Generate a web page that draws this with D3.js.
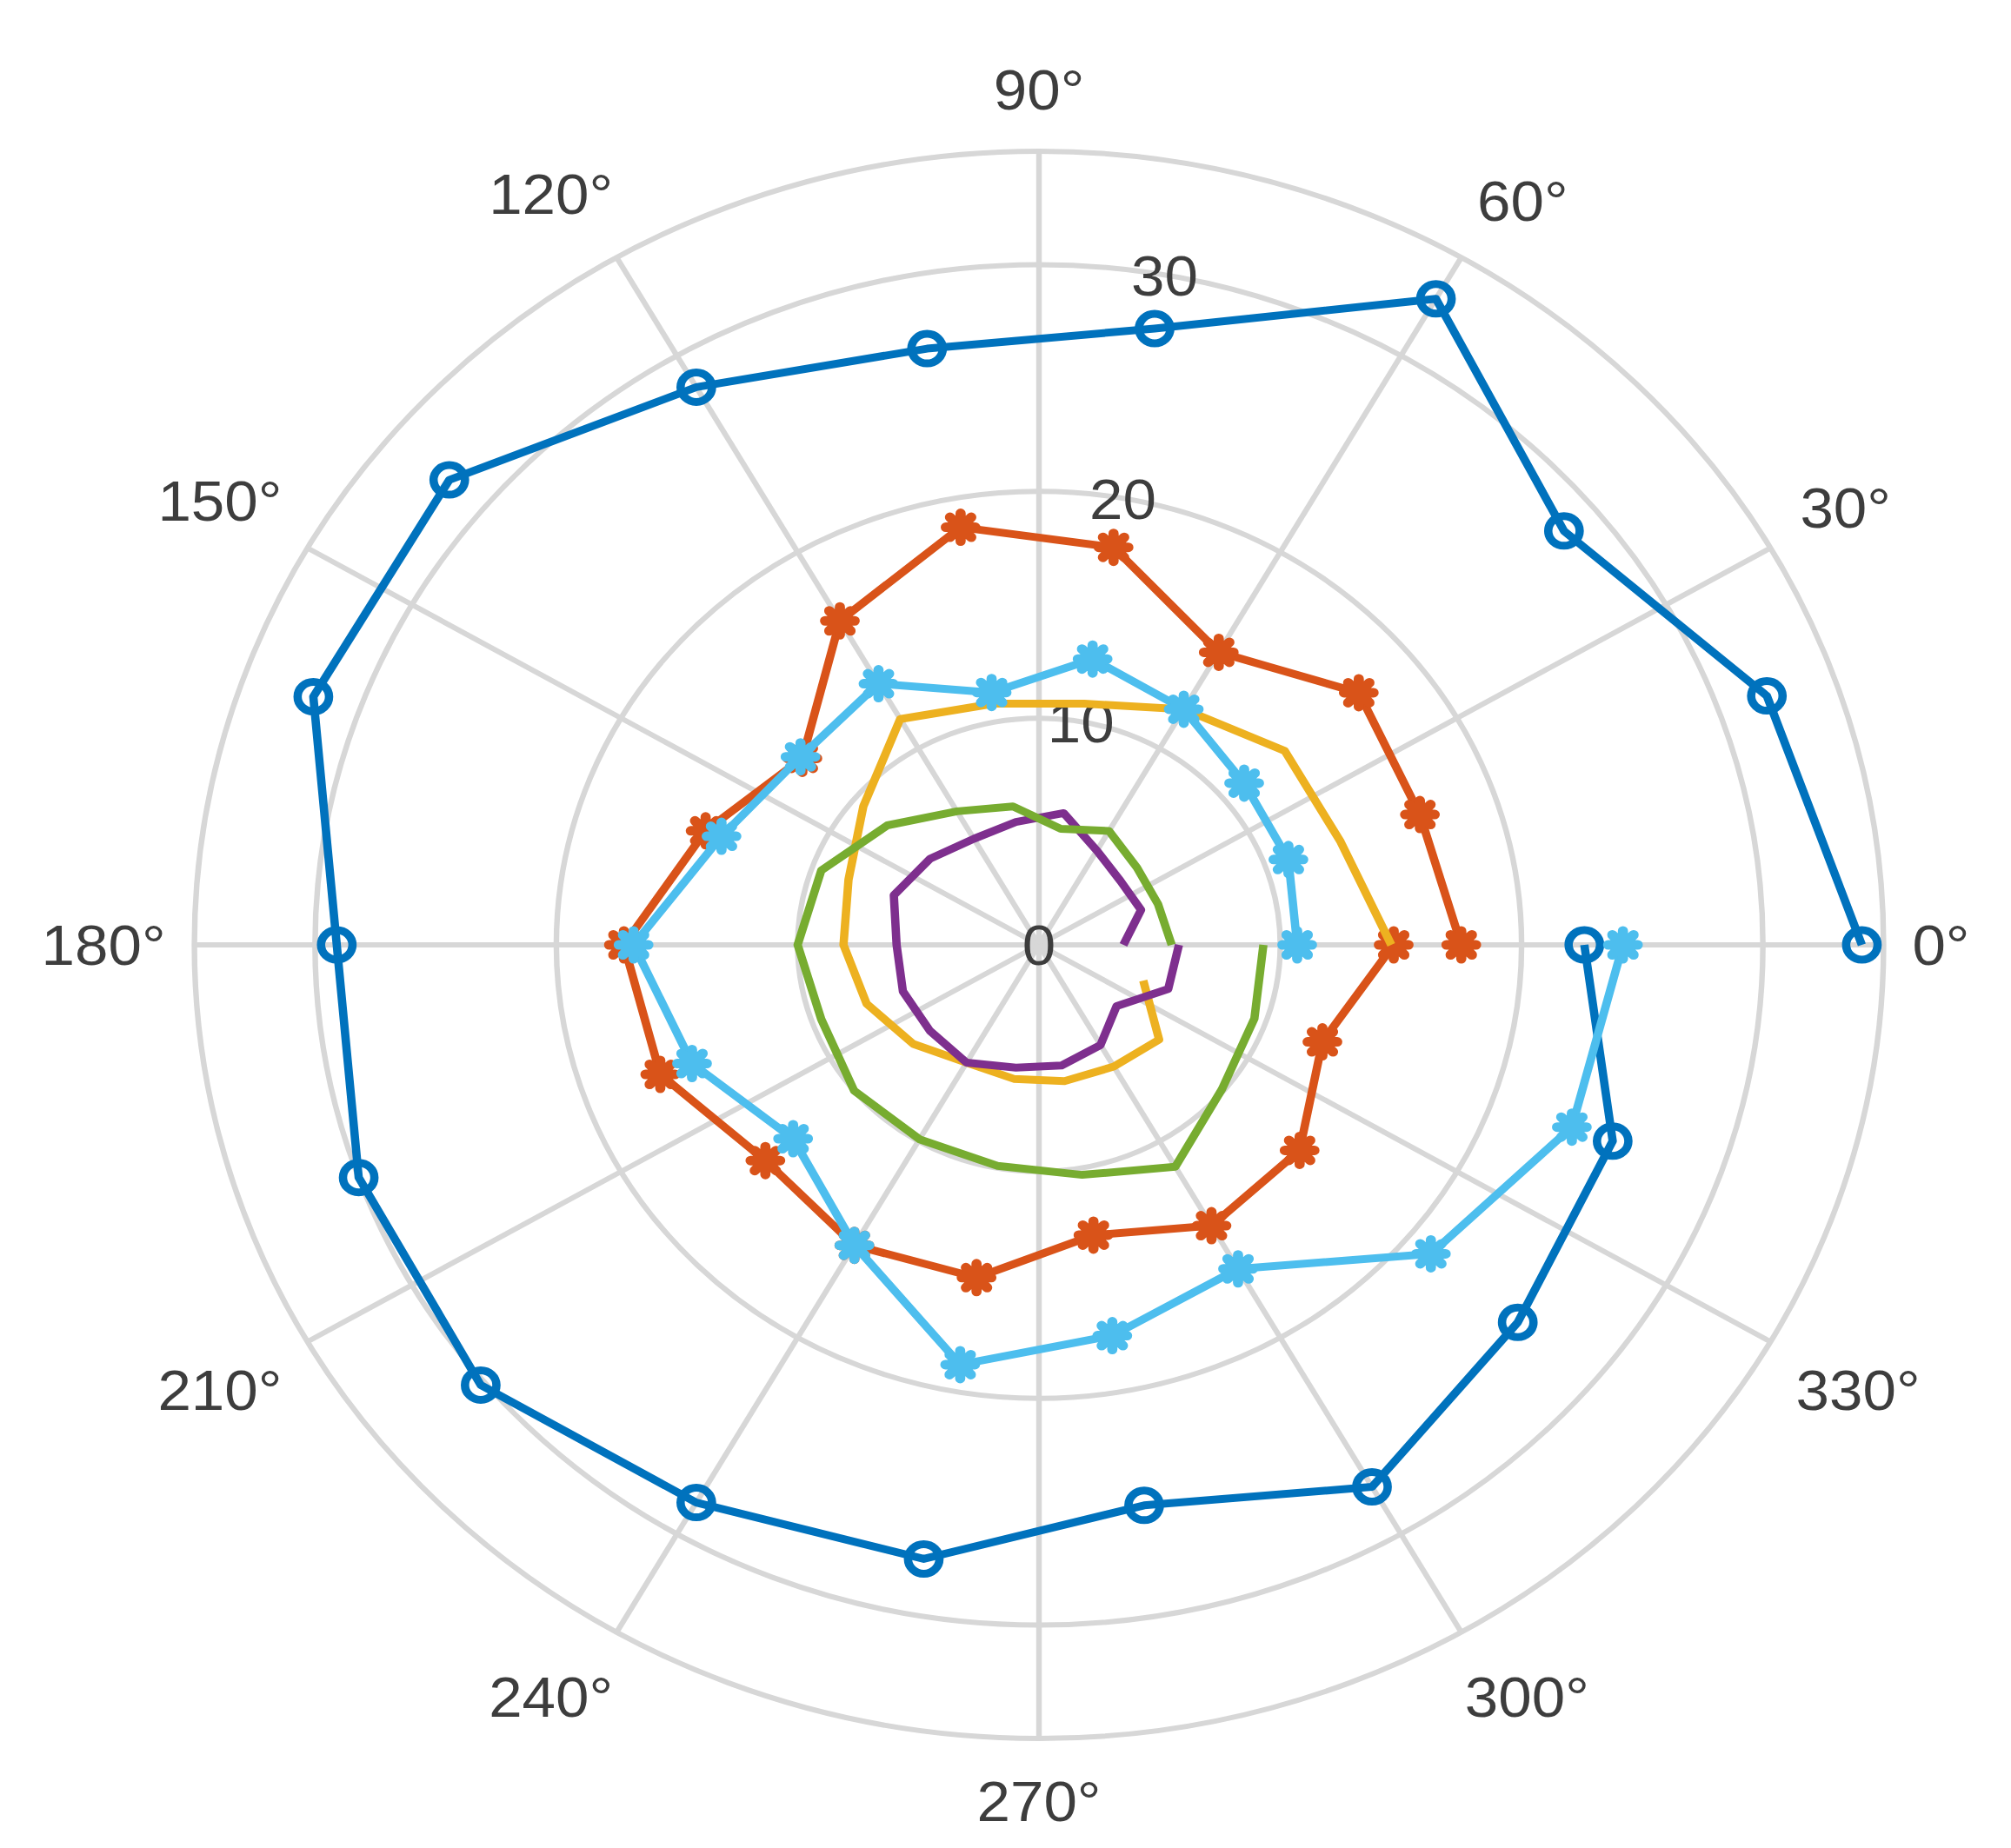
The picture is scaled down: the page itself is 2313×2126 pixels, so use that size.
<!DOCTYPE html>
<html>
<head>
<meta charset="utf-8">
<script src="https://cdn.jsdelivr.net/npm/d3@7"></script>
<style>
  body { margin: 0; background: #fff; }
  text { font-family: "Liberation Sans", Arial, sans-serif; fill: #3d3d3d; }
</style>
</head>
<body>
<div id="chart"></div>
<script>
// dimensions
const width = 2313, height = 2126;
const cx = 1195, cy = 1087;
const outerR = 913;      // pixel radius of r = 35
const stretch = 1.064;   // the picture is a bit wider than tall
const fontSize = 65;

// axis data
const thetaTicks = [0, 30, 60, 90, 120, 150, 180, 210, 240, 270, 300, 330];
const rTicks = [0, 10, 20, 30];
const rRings = [10, 20, 30, 35];
const rMax = 35;
const rLabelAngle = 80;

// series data (theta in degrees, r values)
const theta = [0, 20, 40, 60, 80, 100, 120, 140, 160, 180, 200, 220, 240, 260, 280, 300, 320, 340, 360];
const thetaYellow = [0, 20, 40, 60, 80, 100, 120, 140, 160, 180, 200, 220, 240, 260, 280, 300, 320, 340];

const blueR = [34.1, 32.1, 28.4, 32.9, 27.6, 26.7, 28.4, 31.9, 32.0, 29.1, 30.0, 30.2, 28.4, 27.5, 25.1, 27.6, 25.9, 25.3, 22.6];
const orangeR = [17.5, 16.8, 17.3, 14.9, 17.8, 18.7, 16.5, 12.8, 14.7, 17.2, 16.7, 14.8, 15.3, 14.9, 13.0, 14.3, 14.1, 12.5, 14.7];
const yellowR = [14.6, 13.3, 13.3, 12.0, 10.8, 10.8, 11.5, 9.5, 8.4, 8.1, 7.6, 6.8, 6.0, 6.0, 6.1, 6.2, 6.5, 4.6];
const purpleR = [3.5, 4.5, 4.4, 4.8, 5.9, 5.5, 5.4, 5.9, 6.4, 5.9, 6.0, 5.9, 6.0, 5.5, 5.4, 5.1, 4.2, 5.7, 5.8];
const greenR = [5.5, 5.25, 5.3, 5.8, 5.2, 6.2, 6.8, 8.2, 9.6, 10.0, 9.6, 10.0, 9.9, 9.9, 10.3, 11.3, 9.9, 9.5, 9.3];
const lightBlueR = [10.7, 11.0, 11.1, 12.0, 12.8, 11.3, 13.3, 12.9, 14.0, 16.8, 15.3, 13.3, 15.3, 18.8, 17.5, 16.5, 21.2, 23.5, 24.2];

const series = [
  {name: "s1", th: theta, r: blueR, color: "#0072BD", marker: "o"},
  {name: "s2", th: theta, r: orangeR, color: "#D95319", marker: "*"},
  {name: "s3", th: thetaYellow, r: yellowR, color: "#EDB120", marker: null},
  {name: "s4", th: theta, r: purpleR, color: "#7E2F8E", marker: null},
  {name: "s5", th: theta, r: greenR, color: "#77AC30", marker: null},
  {name: "s6", th: theta, r: lightBlueR, color: "#4DBEEE", marker: "*"}
];

// scales
const rScale = d3.scaleLinear().domain([0, rMax]).range([0, outerR]);
const rad = deg => deg * Math.PI / 180;
const px = (t, r) => rScale(r) * Math.cos(rad(t));
const py = (t, r) => -rScale(r) * Math.sin(rad(t));

const svg = d3.select("#chart").append("svg")
  .attr("width", width).attr("height", height);
svg.append("rect").attr("width", width).attr("height", height).attr("fill", "#fff");

const g = svg.append("g")
  .attr("transform", `translate(${cx},${cy}) scale(${stretch},1)`);

// grid
const grid = g.append("g").attr("fill", "none").attr("stroke", "#d7d7d7").attr("stroke-width", 6);
grid.selectAll("circle").data(rRings).join("circle")
  .attr("r", d => rScale(d));
grid.selectAll("line").data(thetaTicks).join("line")
  .attr("x1", 0).attr("y1", 0)
  .attr("x2", d => px(d, rMax)).attr("y2", d => py(d, rMax));

// r tick labels
g.append("g").selectAll("text").data(rTicks).join("text")
  .attr("x", d => px(rLabelAngle, d))
  .attr("y", d => py(rLabelAngle, d))
  .attr("dy", "0.36em")
  .attr("text-anchor", "middle")
  .attr("font-size", fontSize)
  .text(d => d);

// theta tick labels: box pushed out past the outer ring
const capH = 0.72 * fontSize;
const tl = g.append("g").selectAll("text").data(thetaTicks).join("text")
  .attr("text-anchor", "middle")
  .attr("dy", "0.36em")
  .attr("font-size", fontSize)
  .text(d => d + "°");
tl.each(function(d) {
  const w = this.getBBox().width;
  let c = Math.cos(rad(d)), s = Math.sin(rad(d));
  const gap = 31 + 17 * Math.abs(s);
  const R = rScale(rMax) + gap + (w / 2) * Math.abs(c) + (capH / 2) * Math.abs(s);
  // steep diagonal labels sit a little nearer the horizontal
  let a = d;
  if (Math.abs(c) > 0.01 && Math.abs(c) < 0.7) a -= 1.4 * Math.sign(Math.sin(rad(2 * d)));
  c = Math.cos(rad(a)); s = Math.sin(rad(a));
  d3.select(this)
    .attr("x", R * c)
    .attr("y", -R * s);
});

// lines
const line = d3.lineRadial()
  .angle(d => rad(90 - d[0]))
  .radius(d => rScale(d[1]));

const plots = g.append("g");
series.forEach(sr => {
  const pts = sr.th.map((t, i) => [t, sr.r[i]]);
  const sg = plots.append("g").attr("class", sr.name);
  sg.append("path")
    .attr("d", line(pts))
    .attr("fill", "none")
    .attr("stroke", sr.color)
    .attr("stroke-width", 9)
    .attr("stroke-linejoin", "round");
  if (sr.marker === "o") {
    sg.selectAll("circle").data(pts).join("circle")
      .attr("cx", d => px(d[0], d[1]))
      .attr("cy", d => py(d[0], d[1]))
      .attr("r", 17)
      .attr("fill", "none")
      .attr("stroke", sr.color)
      .attr("stroke-width", 9);
  } else if (sr.marker === "*") {
    const a = 16, b = 11.5;
    const star = `M${-a},0H${a}M0,${-a}V${a}M${-b},${-b}L${b},${b}M${-b},${b}L${b},${-b}`;
    sg.selectAll("path.m").data(pts).join("path")
      .attr("class", "m")
      .attr("transform", d => `translate(${px(d[0], d[1])},${py(d[0], d[1])})`)
      .attr("d", star)
      .attr("fill", "none")
      .attr("stroke", sr.color)
      .attr("stroke-width", 11)
      .attr("stroke-linecap", "round");
  }
});
</script>
</body>
</html>
